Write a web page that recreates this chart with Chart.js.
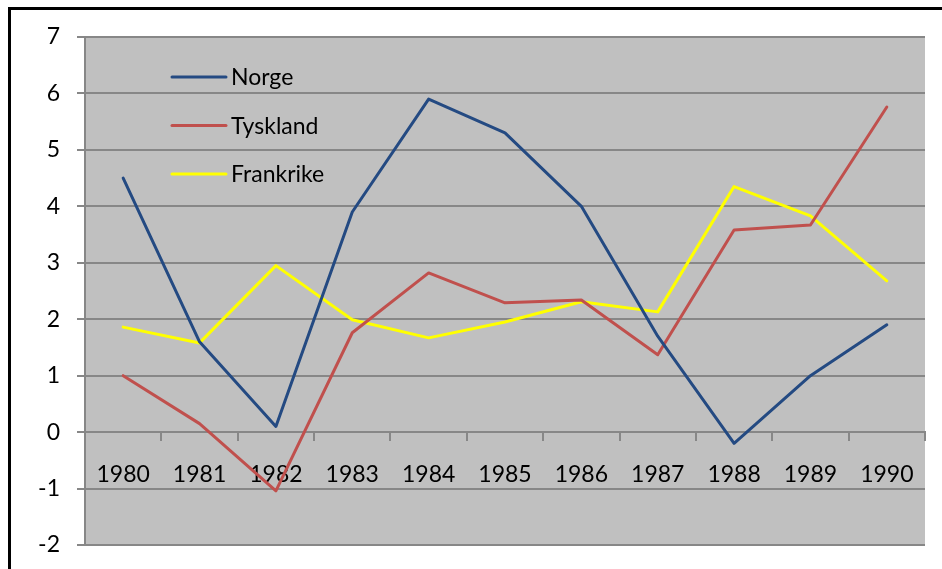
<!DOCTYPE html>
<html>
<head>
<meta charset="utf-8">
<script src="https://cdn.jsdelivr.net/npm/chart.js@4"></script>
<style>
  html, body { margin: 0; padding: 0; background: #fff; }
  #wrap { width: 942px; height: 569px; }
</style>
</head>
<body>
<div id="wrap"><canvas id="chart" width="942" height="569"></canvas></div>
<script>
// data
var years = ['1980', '1981', '1982', '1983', '1984', '1985', '1986', '1987', '1988', '1989', '1990'];
var norge = [4.5, 1.6, 0.1, 3.9, 5.9, 5.3, 4.0, 1.7, -0.2, 1.0, 1.9];
var tyskland = [1.0, 0.15, -1.04, 1.76, 2.82, 2.29, 2.34, 1.37, 3.58, 3.67, 5.76];
var frankrike = [1.86, 1.58, 2.95, 1.99, 1.67, 1.95, 2.31, 2.13, 4.35, 3.83, 2.68];
var yTicks = [-2, -1, 0, 1, 2, 3, 4, 5, 6, 7];

var fontFam = 'Lato, "Liberation Sans", sans-serif';
var gridGray = '#878787';

// gray plot area, white page, black frame and legend inside the plot
var frame = {
    id: 'frame',
    beforeDraw: function (chart) {
        var c = chart.ctx;
        var a = chart.chartArea;
        c.save();
        c.fillStyle = '#fff';
        c.fillRect(0, 0, chart.width, chart.height);
        c.fillStyle = '#c0c0c0';
        c.fillRect(a.left, a.top, a.right - a.left, a.bottom - a.top);
        c.restore();
    },
    afterDraw: function (chart) {
        var c = chart.ctx;
        c.save();
        c.strokeStyle = '#000';
        c.lineWidth = 3;
        c.strokeRect(9.5, 8.5, chart.width + 20, chart.height + 20);

        // legend
        var a = chart.chartArea;
        var x0 = a.left + 87, y0 = a.top + 40, gap = 48.5;
        c.font = '23px ' + fontFam;
        c.textBaseline = 'middle';
        c.textAlign = 'left';
        chart.data.datasets.forEach(function (ds, i) {
            var y = y0 + i * gap;
            c.strokeStyle = ds.borderColor;
            c.lineWidth = 3;
            c.lineCap = 'round';
            c.beginPath();
            c.moveTo(x0, y);
            c.lineTo(x0 + 54, y);
            c.stroke();
            c.fillStyle = '#000';
            c.fillText(ds.label, x0 + 59, y + 1);
        });
        c.restore();
    }
};

var ctx = document.getElementById('chart');
var myChart = new Chart(ctx, {
    type: 'line',
    data: {
        labels: years,
        datasets: [
            { label: 'Norge', data: norge, borderColor: '#244a82' },
            { label: 'Tyskland', data: tyskland, borderColor: '#c0504d' },
            { label: 'Frankrike', data: frankrike, borderColor: '#ffff00' }
        ]
    },
    options: {
        responsive: false,
        animation: false,
        layout: { padding: { left: 0, top: 37, right: 17, bottom: 24 } },
        elements: {
            line: { borderWidth: 3, tension: 0, borderCapStyle: 'round', borderJoinStyle: 'round' },
            point: { radius: 0 }
        },
        plugins: {
            legend: { display: false },
            tooltip: { enabled: false }
        },
        scales: {
            x: {
                type: 'category',
                position: { y: 0 },
                offset: true,
                grid: { offset: true, drawOnChartArea: false, drawTicks: true, tickLength: 8, color: gridGray, lineWidth: 2 },
                border: { display: true, color: gridGray, width: 2 },
                ticks: { color: '#000', font: { family: fontFam, size: 23 }, padding: 21, maxRotation: 0 }
            },
            y: {
                min: -2,
                max: 7,
                afterFit: function (scale) {
                    scale.width = 85;
                    // keep the label padding from eating into the plot height
                    scale.paddingTop = 0;
                    scale.paddingBottom = 0;
                },
                afterBuildTicks: function (scale) {
                    scale.ticks = yTicks.map(function (v) { return { value: v }; });
                },
                grid: { color: gridGray, lineWidth: 2, tickLength: 8 },
                border: { display: true, color: gridGray, width: 2 },
                ticks: { color: '#000', font: { family: fontFam, size: 23 }, padding: 17 }
            }
        }
    },
    plugins: [frame]
});
</script>
</body>
</html>
